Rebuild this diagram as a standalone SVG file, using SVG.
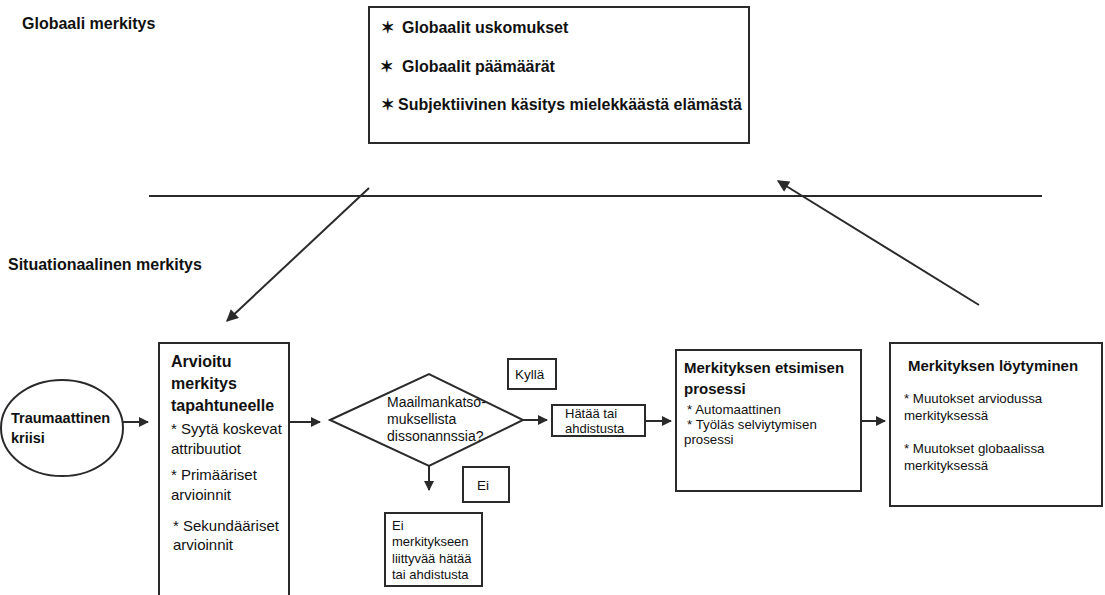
<svg xmlns="http://www.w3.org/2000/svg" width="1105" height="595" viewBox="0 0 1105 595">
<style>
text{font-family:"Liberation Sans",Arial,sans-serif;fill:#111}
.b{font-weight:bold}
.box{fill:#fff;stroke:#2a2a2a;stroke-width:2}
.ln{stroke:#2a2a2a;stroke-width:2;fill:none}
.arr{stroke:#2a2a2a;stroke-width:2;fill:none;marker-end:url(#ah)}
</style>
<defs>
<marker id="ah" viewBox="0 0 10 10" refX="9" refY="5" markerWidth="11" markerHeight="10" markerUnits="userSpaceOnUse" orient="auto">
<path d="M0,0 L10,5 L0,10 z" fill="#2a2a2a"/>
</marker>
<marker id="ahs" viewBox="0 0 10 10" refX="9" refY="5" markerWidth="14" markerHeight="12" markerUnits="userSpaceOnUse" orient="auto">
<path d="M0,0 L10,5 L0,10 z" fill="#2a2a2a"/>
</marker>
</defs>
<rect width="1105" height="595" fill="#fff"/>

<g id="labels">
<text class="b" x="22" y="29" font-size="16">Globaali merkitys</text>
<text class="b" x="8" y="270" font-size="16">Situationaalinen merkitys</text>
</g>

<g id="global">
<rect class="box" x="369" y="7" width="380" height="136"/>
<text class="b" x="381" y="33" font-size="16">✶</text>
<text class="b" x="402" y="33" font-size="16">Globaalit uskomukset</text>
<text class="b" x="380" y="72" font-size="16">✶</text>
<text class="b" x="402" y="72" font-size="16">Globaalit päämäärät</text>
<text class="b" x="381" y="110" font-size="16">✶</text>
<text class="b" x="398" y="110" font-size="16" textLength="344" lengthAdjust="spacingAndGlyphs">Subjektiivinen käsitys mielekkäästä elämästä</text>
</g>

<g id="trauma">
<ellipse class="box" cx="62" cy="428" rx="61" ry="48"/>
<text class="b" x="11" y="423" font-size="14.5">Traumaattinen</text>
<text class="b" x="11" y="443" font-size="14.5">kriisi</text>
</g>

<g id="arvioitu">
<rect class="box" x="159" y="343" width="130" height="260"/>
<text class="b" x="171" y="367" font-size="16">Arvioitu</text>
<text class="b" x="171" y="389" font-size="16">merkitys</text>
<text class="b" x="171" y="411" font-size="16">tapahtuneelle</text>
<text x="171" y="434" font-size="15">* Syytä koskevat</text>
<text x="171" y="454" font-size="15">attribuutiot</text>
<text x="171" y="480" font-size="15">* Primääriset</text>
<text x="171" y="500" font-size="15">arvioinnit</text>
<text x="173" y="531" font-size="15">* Sekundääriset</text>
<text x="173" y="550" font-size="15">arvioinnit</text>
</g>

<g id="diamond">
<polygon class="box" points="330,420 429,374 523,420 429,466"/>
<text x="387" y="407" font-size="14">Maailmankatso-</text>
<text x="387" y="424" font-size="14">muksellista</text>
<text x="387" y="441" font-size="14">dissonannssia?</text>
</g>

<g id="kylla">
<rect class="box" x="508" y="359" width="48" height="30"/>
<text x="515" y="379" font-size="13.5">Kyllä</text>
</g>

<g id="ei">
<rect class="box" x="463" y="467" width="46" height="35"/>
<text x="477" y="490" font-size="13.5">Ei</text>
</g>

<g id="ei-hata">
<rect class="box" x="385" y="513" width="97" height="73"/>
<text x="392" y="530" font-size="13">Ei</text>
<text x="392" y="546" font-size="13">merkitykseen</text>
<text x="392" y="563" font-size="13">liittyvää hätää</text>
<text x="392" y="579" font-size="13">tai ahdistusta</text>
</g>

<g id="hata">
<rect class="box" x="552" y="405" width="93" height="31"/>
<text x="565" y="418" font-size="13">Hätää tai</text>
<text x="565" y="433" font-size="13">ahdistusta</text>
</g>

<g id="etsiminen">
<rect class="box" x="676" y="350" width="185" height="141"/>
<text class="b" x="684" y="373" font-size="15">Merkityksen etsimisen</text>
<text class="b" x="684" y="394" font-size="15">prosessi</text>
<text x="687" y="414" font-size="13.3">* Automaattinen</text>
<text x="687" y="429" font-size="13.3">* Työläs selviytymisen</text>
<text x="684" y="444" font-size="13.3">prosessi</text>
</g>

<g id="loytyminen">
<rect class="box" x="890" y="343" width="212" height="163"/>
<text class="b" x="908" y="371" font-size="15">Merkityksen löytyminen</text>
<text x="904" y="403" font-size="13.3">* Muutokset arviodussa</text>
<text x="904" y="420" font-size="13.3">merkityksessä</text>
<text x="904" y="453" font-size="13.3">* Muutokset globaalissa</text>
<text x="904" y="470" font-size="13.3">merkityksessä</text>
</g>

<g id="connectors">
<line class="ln" x1="149" y1="196" x2="1042" y2="196"/>
<line class="ln" x1="369" y1="188" x2="227" y2="321" style="marker-end:url(#ahs)"/>
<line class="ln" x1="979" y1="305" x2="778" y2="181" style="marker-end:url(#ahs)"/>
<line class="arr" x1="123" y1="422" x2="148" y2="422"/>
<line class="arr" x1="289" y1="422" x2="320" y2="422"/>
<line class="arr" x1="523" y1="420" x2="547" y2="420"/>
<line class="arr" x1="429" y1="466" x2="429" y2="490"/>
<line class="arr" x1="645" y1="421" x2="671" y2="421"/>
<line class="arr" x1="861" y1="421" x2="885" y2="421"/>
</g>
</svg>
